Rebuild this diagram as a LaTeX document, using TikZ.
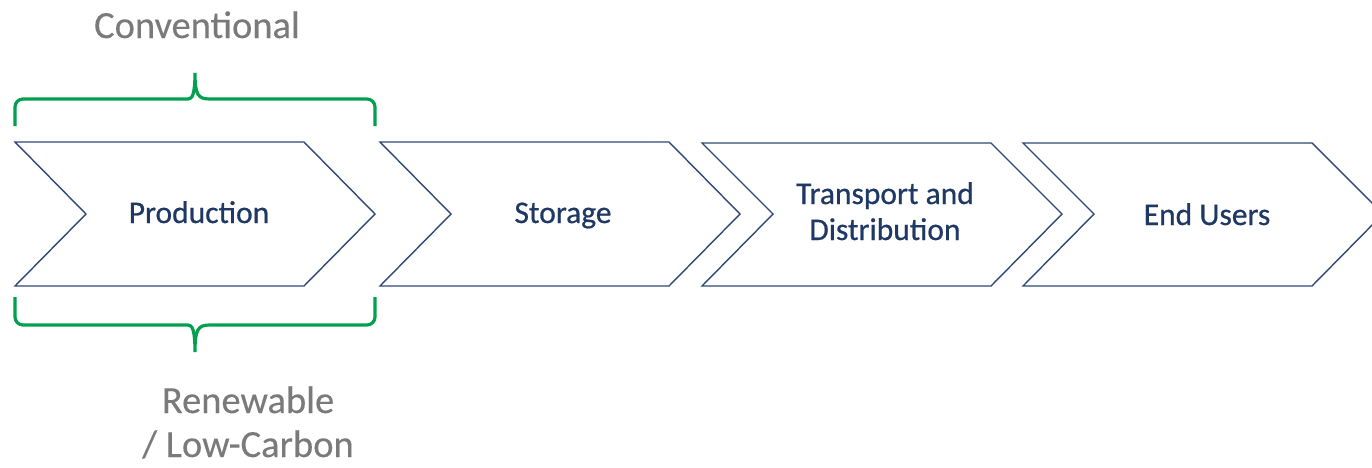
\documentclass[tikz,border=0pt]{standalone}
\usepackage{fontspec}
\setmainfont{Carlito}
\newfontface\heavyface{Carlito}[FakeBold=0.6]
\newfontface\noteface{Carlito}[FakeBold=0.2]
\definecolor{chevline}{HTML}{2F4878}
\definecolor{labelnavy}{HTML}{1F3864}
\definecolor{bracegreen}{HTML}{00A04E}
\definecolor{notegray}{HTML}{7A7A7A}
\tikzset{
  chevron/.style={draw=chevline, fill=white, line width=1.4pt, line join=miter},
  steplabel/.style={text=labelnavy, font=\heavyface\fontsize{31.5}{36}\selectfont, anchor=base, inner sep=0pt},
  brace/.style={draw=bracegreen, line width=3.2pt, line cap=butt},
  note/.style={text=notegray, font=\noteface\fontsize{38.5}{44}\selectfont, anchor=base, inner sep=0pt}
}
\begin{document}
\begin{tikzpicture}[x=1pt,y=-1pt]
  \fill[white] (0,0) rectangle (1372,467);
  \useasboundingbox (0,0) rectangle (1372,467);
  \clip (0,0) rectangle (1372,467);

  % process chevrons: left edge, top, bottom; notch and tip depth 71
  \foreach \lx/\ty in {15/142, 380/142, 702/143, 1023/143}{
    \draw[chevron] (\lx,\ty) -- ({\lx+289},\ty) -- ({\lx+360},214)
      -- ({\lx+289},286) -- (\lx,286) -- ({\lx+71},214) -- cycle;
  }

  \node[steplabel] (prod) at (199,223) {Production};
  \node[steplabel] (stor) at (563,223) {Storage};
  \node[steplabel] (transa) at (885,204) {Transport and};
  \node[steplabel] (transb) at (885,240) {Distribution};
  \node[steplabel] (endu) at (1207,225) {End Users};

  % upper brace
  \draw[brace] [rounded corners=8pt] (15,126) -- (15,99) -- (180,99)
    [sharp corners] .. controls (192,99) and (195,95) .. (195,73)
    .. controls (195,95) and (198,99) .. (210,99)
    [rounded corners=8pt] -- (375,99) -- (375,126);

  % lower brace
  \draw[brace] [rounded corners=8pt] (15,297) -- (15,325) -- (180,325)
    [sharp corners] .. controls (192,325) and (195,329) .. (195,352)
    .. controls (195,329) and (198,325) .. (210,325)
    [rounded corners=8pt] -- (375,325) -- (375,297);

  \node[note] (conv) at (197,38) {Conventional};
  \node[note] (renewa) at (248,413) {Renewable};
  \node[note] (renewb) at (248,457) {/ Low-Carbon};
\end{tikzpicture}
\end{document}
